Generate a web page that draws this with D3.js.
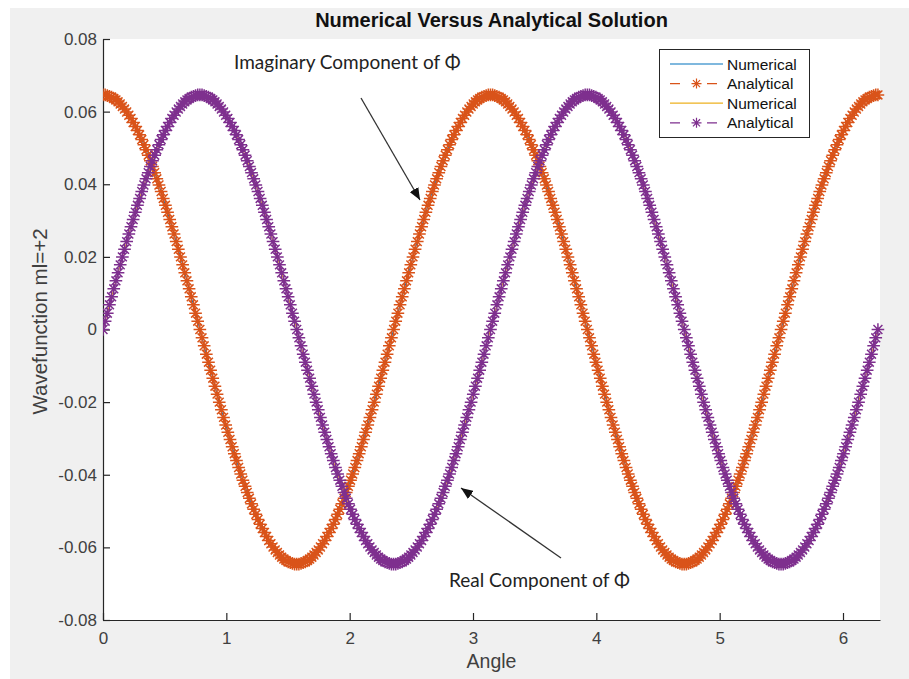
<!DOCTYPE html>
<html>
<head>
<meta charset="utf-8">
<script src="https://cdn.jsdelivr.net/npm/d3@7"></script>
<style>
  body { margin: 0; background: #fff; }
  svg { display: block; }
</style>
</head>
<body>
<svg id="chart" width="909" height="679"></svg>
<script>
// Imaginary part of Phi (m_l = +2), one sample per degree from 0 to 360
const imagPhi = [
  0.0646,0.0646,0.0644,0.0642,0.0640,0.0636,0.0632,0.0627,0.0621,0.0614,
  0.0607,0.0599,0.0590,0.0581,0.0570,0.0559,0.0548,0.0536,0.0523,0.0509,
  0.0495,0.0480,0.0465,0.0449,0.0432,0.0415,0.0398,0.0380,0.0361,0.0342,
  0.0323,0.0303,0.0283,0.0263,0.0242,0.0221,0.0200,0.0178,0.0156,0.0134,
  0.0112,0.0090,0.0068,0.0045,0.0023,
  0,-0.0023,-0.0045,-0.0068,-0.0090,-0.0112,-0.0134,-0.0156,-0.0178,-0.0200,
  -0.0221,-0.0242,-0.0263,-0.0283,-0.0303,-0.0323,-0.0342,-0.0361,-0.0380,-0.0398,
  -0.0415,-0.0432,-0.0449,-0.0465,-0.0480,-0.0495,-0.0509,-0.0523,-0.0536,-0.0548,
  -0.0559,-0.0570,-0.0581,-0.0590,-0.0599,-0.0607,-0.0614,-0.0621,-0.0627,-0.0632,
  -0.0636,-0.0640,-0.0642,-0.0644,-0.0646,
  -0.0646,-0.0646,-0.0644,-0.0642,-0.0640,-0.0636,-0.0632,-0.0627,-0.0621,-0.0614,
  -0.0607,-0.0599,-0.0590,-0.0581,-0.0570,-0.0559,-0.0548,-0.0536,-0.0523,-0.0509,
  -0.0495,-0.0480,-0.0465,-0.0449,-0.0432,-0.0415,-0.0398,-0.0380,-0.0361,-0.0342,
  -0.0323,-0.0303,-0.0283,-0.0263,-0.0242,-0.0221,-0.0200,-0.0178,-0.0156,-0.0134,
  -0.0112,-0.0090,-0.0068,-0.0045,-0.0023,
  0,0.0023,0.0045,0.0068,0.0090,0.0112,0.0134,0.0156,0.0178,0.0200,
  0.0221,0.0242,0.0263,0.0283,0.0303,0.0323,0.0342,0.0361,0.0380,0.0398,
  0.0415,0.0432,0.0449,0.0465,0.0480,0.0495,0.0509,0.0523,0.0536,0.0548,
  0.0559,0.0570,0.0581,0.0590,0.0599,0.0607,0.0614,0.0621,0.0627,0.0632,
  0.0636,0.0640,0.0642,0.0644,0.0646,
  0.0646,0.0646,0.0644,0.0642,0.0640,0.0636,0.0632,0.0627,0.0621,0.0614,
  0.0607,0.0599,0.0590,0.0581,0.0570,0.0559,0.0548,0.0536,0.0523,0.0509,
  0.0495,0.0480,0.0465,0.0449,0.0432,0.0415,0.0398,0.0380,0.0361,0.0342,
  0.0323,0.0303,0.0283,0.0263,0.0242,0.0221,0.0200,0.0178,0.0156,0.0134,
  0.0112,0.0090,0.0068,0.0045,0.0023,
  0,-0.0023,-0.0045,-0.0068,-0.0090,-0.0112,-0.0134,-0.0156,-0.0178,-0.0200,
  -0.0221,-0.0242,-0.0263,-0.0283,-0.0303,-0.0323,-0.0342,-0.0361,-0.0380,-0.0398,
  -0.0415,-0.0432,-0.0449,-0.0465,-0.0480,-0.0495,-0.0509,-0.0523,-0.0536,-0.0548,
  -0.0559,-0.0570,-0.0581,-0.0590,-0.0599,-0.0607,-0.0614,-0.0621,-0.0627,-0.0632,
  -0.0636,-0.0640,-0.0642,-0.0644,-0.0646,
  -0.0646,-0.0646,-0.0644,-0.0642,-0.0640,-0.0636,-0.0632,-0.0627,-0.0621,-0.0614,
  -0.0607,-0.0599,-0.0590,-0.0581,-0.0570,-0.0559,-0.0548,-0.0536,-0.0523,-0.0509,
  -0.0495,-0.0480,-0.0465,-0.0449,-0.0432,-0.0415,-0.0398,-0.0380,-0.0361,-0.0342,
  -0.0323,-0.0303,-0.0283,-0.0263,-0.0242,-0.0221,-0.0200,-0.0178,-0.0156,-0.0134,
  -0.0112,-0.0090,-0.0068,-0.0045,-0.0023,
  0,0.0023,0.0045,0.0068,0.0090,0.0112,0.0134,0.0156,0.0178,0.0200,
  0.0221,0.0242,0.0263,0.0283,0.0303,0.0323,0.0342,0.0361,0.0380,0.0398,
  0.0415,0.0432,0.0449,0.0465,0.0480,0.0495,0.0509,0.0523,0.0536,0.0548,
  0.0559,0.0570,0.0581,0.0590,0.0599,0.0607,0.0614,0.0621,0.0627,0.0632,
  0.0636,0.0640,0.0642,0.0644,0.0646,
  0.0646
];

// Real part of Phi (m_l = +2), same sampling
const realPhi = [
  0,0.0023,0.0045,0.0068,0.0090,0.0112,0.0134,0.0156,0.0178,0.0200,
  0.0221,0.0242,0.0263,0.0283,0.0303,0.0323,0.0342,0.0361,0.0380,0.0398,
  0.0415,0.0432,0.0449,0.0465,0.0480,0.0495,0.0509,0.0523,0.0536,0.0548,
  0.0559,0.0570,0.0581,0.0590,0.0599,0.0607,0.0614,0.0621,0.0627,0.0632,
  0.0636,0.0640,0.0642,0.0644,0.0646,
  0.0646,0.0646,0.0644,0.0642,0.0640,0.0636,0.0632,0.0627,0.0621,0.0614,
  0.0607,0.0599,0.0590,0.0581,0.0570,0.0559,0.0548,0.0536,0.0523,0.0509,
  0.0495,0.0480,0.0465,0.0449,0.0432,0.0415,0.0398,0.0380,0.0361,0.0342,
  0.0323,0.0303,0.0283,0.0263,0.0242,0.0221,0.0200,0.0178,0.0156,0.0134,
  0.0112,0.0090,0.0068,0.0045,0.0023,
  0,-0.0023,-0.0045,-0.0068,-0.0090,-0.0112,-0.0134,-0.0156,-0.0178,-0.0200,
  -0.0221,-0.0242,-0.0263,-0.0283,-0.0303,-0.0323,-0.0342,-0.0361,-0.0380,-0.0398,
  -0.0415,-0.0432,-0.0449,-0.0465,-0.0480,-0.0495,-0.0509,-0.0523,-0.0536,-0.0548,
  -0.0559,-0.0570,-0.0581,-0.0590,-0.0599,-0.0607,-0.0614,-0.0621,-0.0627,-0.0632,
  -0.0636,-0.0640,-0.0642,-0.0644,-0.0646,
  -0.0646,-0.0646,-0.0644,-0.0642,-0.0640,-0.0636,-0.0632,-0.0627,-0.0621,-0.0614,
  -0.0607,-0.0599,-0.0590,-0.0581,-0.0570,-0.0559,-0.0548,-0.0536,-0.0523,-0.0509,
  -0.0495,-0.0480,-0.0465,-0.0449,-0.0432,-0.0415,-0.0398,-0.0380,-0.0361,-0.0342,
  -0.0323,-0.0303,-0.0283,-0.0263,-0.0242,-0.0221,-0.0200,-0.0178,-0.0156,-0.0134,
  -0.0112,-0.0090,-0.0068,-0.0045,-0.0023,
  0,0.0023,0.0045,0.0068,0.0090,0.0112,0.0134,0.0156,0.0178,0.0200,
  0.0221,0.0242,0.0263,0.0283,0.0303,0.0323,0.0342,0.0361,0.0380,0.0398,
  0.0415,0.0432,0.0449,0.0465,0.0480,0.0495,0.0509,0.0523,0.0536,0.0548,
  0.0559,0.0570,0.0581,0.0590,0.0599,0.0607,0.0614,0.0621,0.0627,0.0632,
  0.0636,0.0640,0.0642,0.0644,0.0646,
  0.0646,0.0646,0.0644,0.0642,0.0640,0.0636,0.0632,0.0627,0.0621,0.0614,
  0.0607,0.0599,0.0590,0.0581,0.0570,0.0559,0.0548,0.0536,0.0523,0.0509,
  0.0495,0.0480,0.0465,0.0449,0.0432,0.0415,0.0398,0.0380,0.0361,0.0342,
  0.0323,0.0303,0.0283,0.0263,0.0242,0.0221,0.0200,0.0178,0.0156,0.0134,
  0.0112,0.0090,0.0068,0.0045,0.0023,
  0,-0.0023,-0.0045,-0.0068,-0.0090,-0.0112,-0.0134,-0.0156,-0.0178,-0.0200,
  -0.0221,-0.0242,-0.0263,-0.0283,-0.0303,-0.0323,-0.0342,-0.0361,-0.0380,-0.0398,
  -0.0415,-0.0432,-0.0449,-0.0465,-0.0480,-0.0495,-0.0509,-0.0523,-0.0536,-0.0548,
  -0.0559,-0.0570,-0.0581,-0.0590,-0.0599,-0.0607,-0.0614,-0.0621,-0.0627,-0.0632,
  -0.0636,-0.0640,-0.0642,-0.0644,-0.0646,
  -0.0646,-0.0646,-0.0644,-0.0642,-0.0640,-0.0636,-0.0632,-0.0627,-0.0621,-0.0614,
  -0.0607,-0.0599,-0.0590,-0.0581,-0.0570,-0.0559,-0.0548,-0.0536,-0.0523,-0.0509,
  -0.0495,-0.0480,-0.0465,-0.0449,-0.0432,-0.0415,-0.0398,-0.0380,-0.0361,-0.0342,
  -0.0323,-0.0303,-0.0283,-0.0263,-0.0242,-0.0221,-0.0200,-0.0178,-0.0156,-0.0134,
  -0.0112,-0.0090,-0.0068,-0.0045,-0.0023,
  0
];

const xTicks = [0, 1, 2, 3, 4, 5, 6];
const yTicks = [-0.08, -0.06, -0.04, -0.02, 0, 0.02, 0.04, 0.06, 0.08];
const legendLabels = ["Numerical", "Analytical", "Numerical", "Analytical"];
const titleText = "Numerical Versus Analytical Solution";
const xLabelText = "Angle";
const yLabelText = "Wavefunction ml=+2";
const imagNote = "Imaginary Component of \u03A6";
const realNote = "Real Component of \u03A6";

// sample angles: one per degree, in radians
const angles = d3.range(imagPhi.length).map(i => i * Math.PI / 180);

const W = 909, H = 679;
const plot = { left: 103, right: 880, top: 39, bottom: 620 };
const axisColor = "#262626";
const tickColor = "#404040";
const colors = {
  numImag: "#0072BD",
  anaImag: "#D95319",
  numReal: "#EDB120",
  anaReal: "#7E2F8E"
};

const svg = d3.select("#chart");

// figure background
svg.append("rect").attr("x", 0).attr("y", 0).attr("width", W).attr("height", H).attr("fill", "#fff");
svg.append("rect").attr("x", 10).attr("y", 8).attr("width", W - 10).attr("height", H - 8).attr("fill", "#f0f0f0");
svg.append("rect")
  .attr("x", plot.left).attr("y", plot.top)
  .attr("width", plot.right - plot.left).attr("height", plot.bottom - plot.top)
  .attr("fill", "#fff");

const x = d3.scaleLinear().domain([0, 6.3]).range([plot.left, plot.right]);
const y = d3.scaleLinear().domain([-0.08, 0.08]).range([plot.bottom, plot.top]);

const tickFont = "'Liberation Sans', Arial, Helvetica, sans-serif";

// x axis (ticks point into the plot)
const gx = svg.append("g")
  .attr("transform", `translate(0,${plot.bottom})`)
  .call(d3.axisBottom(x).tickValues(xTicks).tickFormat(d3.format("d")).tickSizeInner(-7).tickSizeOuter(0).tickPadding(12));
gx.select(".domain").attr("stroke", axisColor).attr("stroke-width", 1.2);
gx.selectAll(".tick line").attr("stroke", axisColor).attr("stroke-width", 1.2);
gx.selectAll(".tick text").attr("fill", tickColor).style("font-family", tickFont).style("font-size", "17px");

// y axis
const gy = svg.append("g")
  .attr("transform", `translate(${plot.left},0)`)
  .call(d3.axisLeft(y).tickValues(yTicks).tickFormat(d => d === 0 ? "0" : d.toFixed(2)).tickSizeInner(-7).tickSizeOuter(0).tickPadding(6));
gy.select(".domain").attr("stroke", axisColor).attr("stroke-width", 1.2);
gy.selectAll(".tick line").attr("stroke", axisColor).attr("stroke-width", 1.2);
gy.selectAll(".tick text").attr("fill", tickColor).style("font-family", tickFont).style("font-size", "17px");

// labels and title
svg.append("text")
  .attr("x", (plot.left + plot.right) / 2).attr("y", 27)
  .attr("text-anchor", "middle")
  .style("font-family", tickFont).style("font-size", "20px").style("font-weight", "bold")
  .attr("fill", "#111")
  .text(titleText);

svg.append("text")
  .attr("x", (plot.left + plot.right) / 2).attr("y", 668)
  .attr("text-anchor", "middle")
  .style("font-family", tickFont).style("font-size", "19.5px")
  .attr("fill", tickColor)
  .text(xLabelText);

svg.append("text")
  .attr("transform", `translate(47,${(plot.top + plot.bottom) / 2 - 8}) rotate(-90)`)
  .attr("text-anchor", "middle")
  .style("font-family", tickFont).style("font-size", "20.5px")
  .attr("fill", tickColor)
  .text(yLabelText);

// series
svg.append("defs").append("clipPath").attr("id", "plotClip")
  .append("rect").attr("x", plot.left).attr("y", plot.top - 20)
  .attr("width", plot.right - plot.left + 10).attr("height", plot.bottom - plot.top + 20);

const layer = svg.append("g").attr("clip-path", "url(#plotClip)");
const line = d3.line().x(d => x(d[0])).y(d => y(d[1]));

const imagPts = angles.map((a, i) => [a, imagPhi[i]]);
const realPts = angles.map((a, i) => [a, realPhi[i]]);

function asteriskPath(px, py, s) {
  const d = s * 0.7071;
  return `M${px - s},${py}h${2 * s}M${px},${py - s}v${2 * s}` +
         `M${px - d},${py - d}l${2 * d},${2 * d}M${px - d},${py + d}l${2 * d},${-2 * d}`;
}

function drawNumerical(pts, color) {
  layer.append("path").datum(pts)
    .attr("d", line).attr("fill", "none")
    .attr("stroke", color).attr("stroke-width", 1);
}

function drawAnalytical(pts, color) {
  layer.append("path").datum(pts)
    .attr("d", line).attr("fill", "none")
    .attr("stroke", color).attr("stroke-width", 1.5)
    .attr("stroke-dasharray", "8,5");
  layer.append("path")
    .attr("d", pts.map(p => asteriskPath(x(p[0]), y(p[1]), 6.3)).join(""))
    .attr("fill", "none").attr("stroke", color).attr("stroke-width", 1.5);
}

drawNumerical(imagPts, colors.numImag);
drawAnalytical(imagPts, colors.anaImag);
drawNumerical(realPts, colors.numReal);
drawAnalytical(realPts, colors.anaReal);

// legend
const legend = { x: 659, y: 49, w: 150, h: 88 };
const lg = svg.append("g");
lg.append("rect")
  .attr("x", legend.x + 0.5).attr("y", legend.y + 0.5)
  .attr("width", legend.w).attr("height", legend.h)
  .attr("fill", "#fff").attr("stroke", axisColor).attr("stroke-width", 1);
const legendColors = [colors.numImag, colors.anaImag, colors.numReal, colors.anaReal];
legendLabels.forEach((lab, i) => {
  const cy = legend.y + 15 + i * 19.6;
  const c = legendColors[i];
  const x0 = legend.x + 11, x1 = legend.x + 64;
  if (i % 2 === 0) {
    lg.append("line").attr("x1", x0).attr("x2", x1).attr("y1", cy).attr("y2", cy)
      .attr("stroke", c).attr("stroke-width", 1.2);
  } else {
    lg.append("line").attr("x1", x0).attr("x2", x1).attr("y1", cy).attr("y2", cy)
      .attr("stroke", c).attr("stroke-width", 1.2).attr("stroke-dasharray", "10,6,0,21,10");
    lg.append("path").attr("d", asteriskPath((x0 + x1) / 2, cy, 5))
      .attr("fill", "none").attr("stroke", c).attr("stroke-width", 1.2);
  }
  lg.append("text")
    .attr("x", legend.x + 68).attr("y", cy + 5.5)
    .style("font-family", tickFont).style("font-size", "15.5px")
    .attr("fill", "#111")
    .text(lab);
});

// annotations with arrows
const defs = svg.select("defs");
defs.append("marker")
  .attr("id", "arrowHead").attr("viewBox", "0 0 12 10")
  .attr("refX", 12).attr("refY", 5)
  .attr("markerWidth", 12).attr("markerHeight", 10)
  .attr("markerUnits", "userSpaceOnUse")
  .attr("orient", "auto")
  .append("path").attr("d", "M0,0L12,5L0,10Z").attr("fill", "#111");

const noteFont = "Lato, 'Open Sans', 'Noto Sans', sans-serif";
svg.append("text").attr("x", 234).attr("y", 69)
  .style("font-family", noteFont).style("font-size", "19px").attr("fill", "#222")
  .text(imagNote);
svg.append("text").attr("x", 449).attr("y", 587)
  .style("font-family", noteFont).style("font-size", "19px").attr("fill", "#222")
  .text(realNote);

svg.append("line")
  .attr("x1", 361).attr("y1", 98).attr("x2", 420).attr("y2", 200)
  .attr("stroke", "#333").attr("stroke-width", 1.3)
  .attr("marker-end", "url(#arrowHead)");
svg.append("line")
  .attr("x1", 561).attr("y1", 558).attr("x2", 461).attr("y2", 488)
  .attr("stroke", "#333").attr("stroke-width", 1.3)
  .attr("marker-end", "url(#arrowHead)");
</script>
</body>
</html>
